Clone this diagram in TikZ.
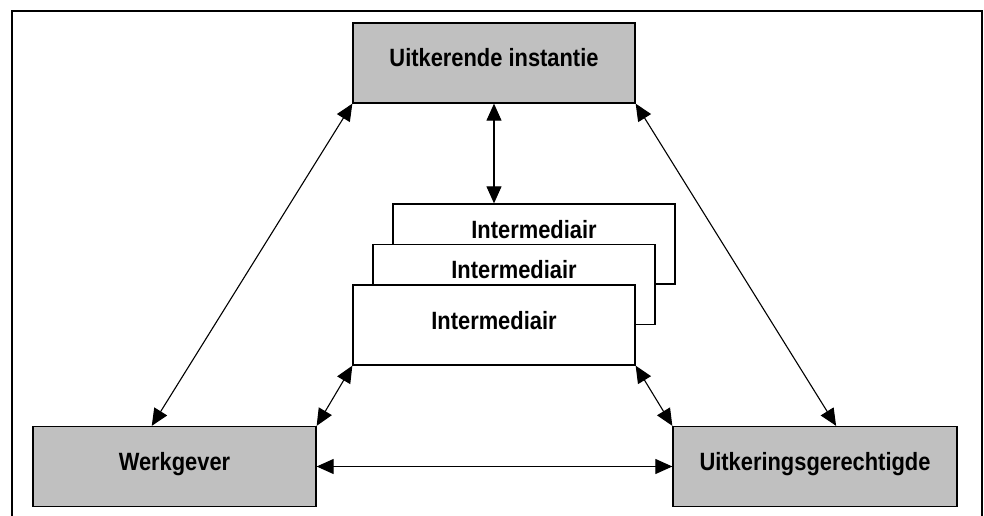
\documentclass[tikz,border=0pt]{standalone}
\usepackage{fontspec}
\setmainfont[FakeStretch=0.875]{Liberation Sans}
\usetikzlibrary{arrows.meta,%
                calc,positioning}

\begin{document}
\begin{tikzpicture}[x=1pt,y=-1pt,
  box/.style={draw, line width=1.3pt, inner sep=0pt,
    minimum width=282pt, minimum height=80pt,
    font=\fontsize{25}{30}\selectfont\bfseries,
    text height=44pt, text depth=36pt},
  grey/.style={box, fill={rgb,255:red,192;green,192;blue,192}},
  stack/.style={box, fill=white, text height=34pt, text depth=46pt},
  link/.style={line width=1.1pt, {Triangle[length=17pt,width=15pt]}-{Triangle[length=17pt,width=15pt]}}]
\useasboundingbox (0,0) rectangle (984,516);
\draw[line width=1.2pt] (12,530) -- (12,11) -- (982,11) -- (982,530);

\node[grey] (instantie) at (494,63) {Uitkerende instantie};
\node[grey, minimum width=283pt] (werkgever) at (174.5,466.5) {Werkgever};
\node[grey, minimum width=284pt] (gerechtigde) at (815,466.5) {Uitkeringsgerechtigde};

\node[stack] (inter3) at (534,244) {Intermediair};
\node[stack] (inter2) at (514,284.5) {Intermediair};
\node[box, fill=white] (inter1) at (494,325) {Intermediair};

\draw[link] (instantie.south) -- (inter3.north -| instantie.south);
\draw[link] (instantie.south west) -- ($(werkgever.north west)!0.42!(werkgever.north east)$);
\draw[link] (instantie.south east) -- ($(gerechtigde.north west)!0.574!(gerechtigde.north east)$);
\draw[link] (inter1.south west) -- (werkgever.north east);
\draw[link] (inter1.south east) -- (gerechtigde.north west);
\draw[link] (werkgever.east) -- (gerechtigde.west);

\end{tikzpicture}
\end{document}
